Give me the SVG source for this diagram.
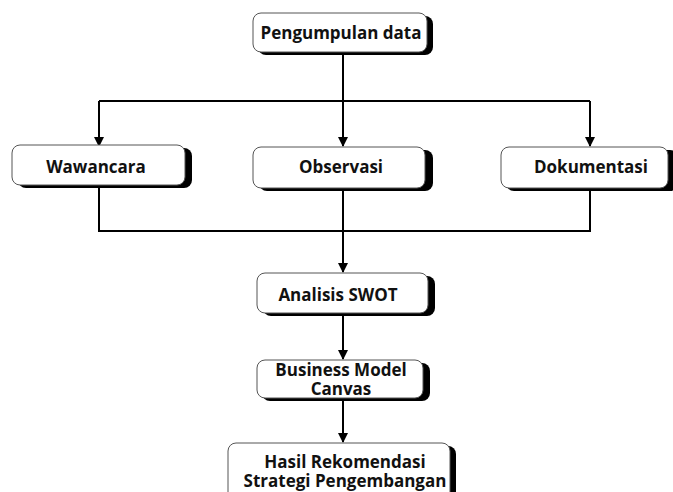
<svg xmlns="http://www.w3.org/2000/svg" width="673" height="492" viewBox="0 0 673 492">
<defs>
<style>
.box{fill:#fff;stroke:#555;stroke-width:1}
.sh{fill:#000}
.t{font-family:"Open Sans","Noto Sans",sans-serif;font-weight:700;font-size:17px;fill:#111;text-anchor:middle}
.c{fill:none;stroke:#000;stroke-width:2}
</style>
<marker id="ah" viewBox="0 0 10 10" refX="9" refY="5" markerWidth="10" markerHeight="10" markerUnits="userSpaceOnUse" orient="auto">
<path d="M0,0 L10,5 L0,10 Z" fill="#000"/>
</marker>
</defs>
<rect width="673" height="492" fill="#fff"/>
<g id="connectors">
<path class="c" d="M343,55 V101"/>
<path class="c" d="M99,101 H590"/>
<path class="c" d="M99,101 V146" marker-end="url(#ah)"/>
<path class="c" d="M343,101 V146" marker-end="url(#ah)"/>
<path class="c" d="M590,101 V146" marker-end="url(#ah)"/>
<path class="c" d="M99,188 V231 H590 V188"/>
<path class="c" d="M343,191 V272" marker-end="url(#ah)"/>
<path class="c" d="M343,316 V359" marker-end="url(#ah)"/>
<path class="c" d="M343,401 V442" marker-end="url(#ah)"/>
</g>
<g id="pengumpulan">
<rect class="sh" x="258" y="16" width="175" height="39" rx="8"/>
<rect class="box" x="253" y="13" width="174" height="39" rx="8"/>
<text class="t" x="341" y="39">Pengumpulan data</text>
</g>
<g id="wawancara">
<rect class="sh" x="18" y="148" width="174" height="40" rx="8"/>
<rect class="box" x="12" y="145" width="173" height="40" rx="8"/>
<text class="t" x="96" y="173">Wawancara</text>
</g>
<g id="observasi">
<rect class="sh" x="259" y="150" width="174" height="41" rx="8"/>
<rect class="box" x="253" y="147" width="172" height="41" rx="8"/>
<text class="t" x="341" y="173">Observasi</text>
</g>
<g id="dokumentasi">
<rect class="sh" x="506" y="150" width="172" height="41" rx="8"/>
<rect class="box" x="501" y="147" width="167" height="41" rx="8"/>
<text class="t" x="591" y="173">Dokumentasi</text>
</g>
<g id="swot">
<rect class="sh" x="263" y="276" width="172" height="40" rx="8"/>
<rect class="box" x="257" y="273" width="171" height="40" rx="8"/>
<text class="t" x="338" y="301">Analisis SWOT</text>
</g>
<g id="bmc">
<rect class="sh" x="262" y="363" width="168" height="38" rx="8"/>
<rect class="box" x="257" y="360" width="166" height="38" rx="8"/>
<text class="t" x="341" y="376">Business Model</text>
<text class="t" x="341" y="395">Canvas</text>
</g>
<g id="hasil">
<rect class="sh" x="233" y="446" width="223" height="60" rx="8"/>
<rect class="box" x="228" y="443" width="222" height="60" rx="8"/>
<text class="t" x="345" y="468">Hasil Rekomendasi</text>
<text class="t" x="345" y="487">Strategi Pengembangan</text>
</g>
</svg>
